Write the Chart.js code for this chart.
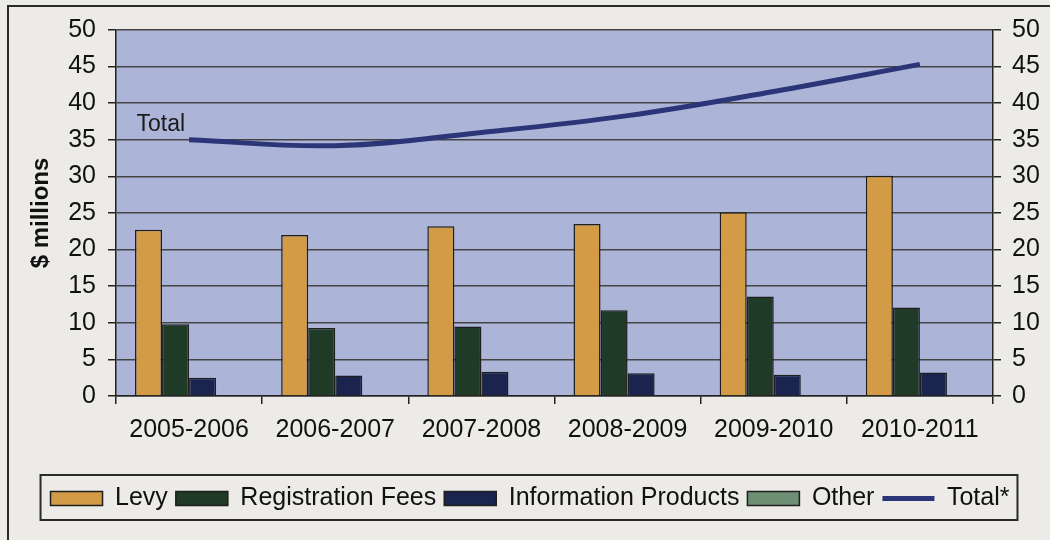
<!DOCTYPE html>
<html>
<head>
<meta charset="utf-8">
<script src="https://cdn.jsdelivr.net/npm/chart.js@4/dist/chart.umd.min.js"></script>
<style>
  html, body { margin: 0; padding: 0; background: #ecebe7; }
  #wrap { width: 1050px; height: 540px; }
</style>
</head>
<body>
<div id="wrap"><canvas id="revenue" width="1050" height="540"></canvas></div>
<script>
// 연도별 수입 구성 ($ millions)
const years = ['2005-2006', '2006-2007', '2007-2008', '2008-2009', '2009-2010', '2010-2011'];
const levy = [22.7, 22.0, 23.2, 23.5, 25.1, 30.1];
const registrationFees = [9.8, 9.3, 9.5, 11.7, 13.6, 12.1];
const informationProducts = [2.5, 2.8, 3.3, 3.1, 2.9, 3.2];
const other = [0, 0, 0, 0, 0, 0];
const total = [35.0, 34.2, 36.0, 38.3, 41.6, 45.3];
const yTicks = [0, 5, 10, 15, 20, 25, 30, 35, 40, 45, 50];

const FONT = "'Liberation Sans', Arial, sans-serif";
const gridColor = '#444';

// 배경, 플롯 영역, 바깥 테두리
const backdrop = {
    id: 'backdrop',
    beforeDraw(chart) {
        const { ctx, chartArea: a } = chart;
        ctx.save();
        ctx.fillStyle = '#ecebe7';
        ctx.fillRect(0, 0, chart.width, chart.height);
        ctx.fillStyle = '#acb5d8';
        ctx.fillRect(a.left, a.top, a.right - a.left, a.bottom - a.top);
        ctx.strokeStyle = '#2a2a2a';
        ctx.lineWidth = 2;
        ctx.beginPath();
        ctx.moveTo(8, chart.height);
        ctx.lineTo(8, 6);
        ctx.lineTo(chart.width, 6);
        ctx.stroke();
        ctx.restore();
    }
};

// 범례 테두리 + 선 옆 'Total' 글자
const extras = {
    id: 'extras',
    afterDraw(chart) {
        const { ctx } = chart;
        const boxes = chart.legend.legendHitBoxes;
        ctx.save();
        if (boxes && boxes.length) {
            const l = Math.min(...boxes.map(b => b.left)) - 10;
            const r = Math.max(...boxes.map(b => b.left + b.width)) + 8;
            const t = Math.min(...boxes.map(b => b.top)) - 11;
            const btm = Math.max(...boxes.map(b => b.top + b.height)) + 9;
            ctx.strokeStyle = '#2a2a2a';
            ctx.lineWidth = 2;
            ctx.strokeRect(l, t, r - l, btm - t);
        }
        const meta = chart.getDatasetMeta(4);
        const p = meta.data[0];
        ctx.fillStyle = '#1a1a1a';
        ctx.font = '23px ' + FONT;
        ctx.textAlign = 'right';
        ctx.textBaseline = 'middle';
        ctx.fillText('Total', p.x - 4, p.y - 15);
        ctx.restore();
    }
};

const barStyle = { borderColor: '#1e1e1e', borderWidth: 1.5, borderSkipped: 'start', pointStyle: 'rect', yAxisID: 'y' };

new Chart(document.getElementById('revenue'), {
    type: 'bar',
    data: {
        labels: years,
        datasets: [
            { label: 'Levy', data: levy, backgroundColor: '#d39b46', ...barStyle },
            { label: 'Registration Fees', data: registrationFees, backgroundColor: '#1f3a27', ...barStyle },
            { label: 'Information Products', data: informationProducts, backgroundColor: '#1b234f', ...barStyle },
            { label: 'Other', data: other, backgroundColor: '#6f8f74', ...barStyle },
            {
                type: 'line', label: 'Total*', data: total,
                borderColor: '#2c3577', backgroundColor: '#2c3577',
                borderWidth: 5, tension: 0.4, pointRadius: 0, fill: false,
                pointStyle: 'line', yAxisID: 'y'
            }
        ]
    },
    options: {
        responsive: false,
        animation: false,
        devicePixelRatio: 1,
        datasets: { bar: { categoryPercentage: 0.74, barPercentage: 1.0 } },
        layout: { padding: { left: 10, right: 0, top: 30, bottom: 19 } },
        plugins: {
            tooltip: { enabled: false },
            legend: {
                position: 'bottom',
                labels: {
                    usePointStyle: true,
                    pointStyleWidth: 52,
                    boxHeight: 14,
                    padding: 8,
                    color: '#111',
                    font: { family: FONT, size: 25 }
                }
            }
        },
        scales: {
            x: {
                grid: { drawOnChartArea: false, offset: true, tickLength: 8, color: '#222', lineWidth: 1.5 },
                border: { color: '#222', width: 1.5 },
                ticks: { color: '#111', padding: 11, font: { family: FONT, size: 25 }, maxRotation: 0 },
                afterFit(s) { s.height = 82; }
            },
            y: {
                position: 'left',
                min: 0, max: 50,
                afterBuildTicks(s) { s.ticks = yTicks.map(v => ({ value: v })); },
                grid: { color: gridColor, lineWidth: 1.5, tickLength: 8, tickColor: '#222' },
                border: { color: '#222', width: 1.5 },
                ticks: { color: '#111', padding: 12, font: { family: FONT, size: 25 } },
                title: {
                    display: true, text: '$ millions', color: '#111',
                    padding: { top: 17, bottom: 0 },
                    font: { family: FONT, size: 24, weight: 'bold' }
                },
                afterFit(s) { s.width = 106; }
            },
            y2: {
                position: 'right',
                min: 0, max: 50,
                afterBuildTicks(s) { s.ticks = yTicks.map(v => ({ value: v })); },
                grid: { drawOnChartArea: false, tickLength: 8, color: '#222', lineWidth: 1.5 },
                border: { color: '#222', width: 1.5 },
                ticks: { color: '#111', padding: 11, font: { family: FONT, size: 25 } },
                afterFit(s) { s.width = 57; }
            }
        }
    },
    plugins: [backdrop, extras]
});
</script>
</body>
</html>
